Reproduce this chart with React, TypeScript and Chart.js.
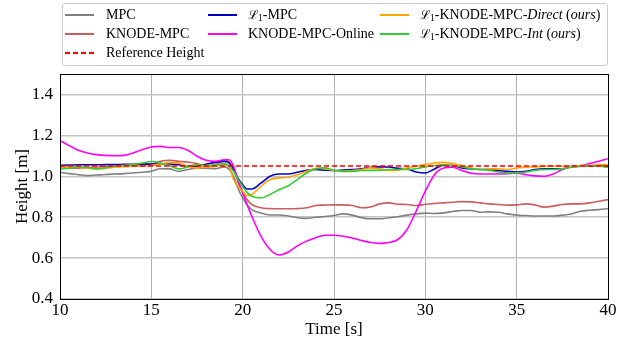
import React, { useEffect, useRef } from "react";
import { Chart, registerables } from "chart.js";

Chart.register(...registerables);

const T = [10,10.5,11,11.5,12,12.5,13,13.5,14,14.5,15,15.5,16,16.5,17,17.5,18,18.5,19,19.25,19.5,19.75,20,20.25,20.5,21,21.5,22,22.5,23,23.5,24,24.5,25,25.5,26,26.5,27,27.5,28,28.5,29,29.5,30,30.5,31,31.5,32,32.5,33,33.5,34,34.5,35,35.5,36,36.5,37,37.5,38,38.5,39,39.5,40];

const mpc = [1.020,1.013,1.008,1.003,1.006,1.009,1.011,1.013,1.016,1.02,1.024,1.037,1.036,1.024,1.033,1.04,1.04,1.037,1.046,1.035,1.0,0.94,0.894,0.86,0.837,0.82,0.811,0.811,0.806,0.797,0.794,0.8,0.803,0.808,0.816,0.81,0.798,0.792,0.792,0.797,0.802,0.81,0.816,0.82,0.818,0.821,0.828,0.833,0.833,0.824,0.826,0.824,0.816,0.81,0.808,0.806,0.806,0.806,0.81,0.816,0.829,0.834,0.837,0.841];

const knodeMpc = [1.04,1.04,1.04,1.042,1.045,1.046,1.048,1.05,1.052,1.056,1.06,1.073,1.078,1.073,1.07,1.062,1.049,1.057,1.078,1.072,1.04,0.97,0.919,0.885,0.862,0.846,0.842,0.841,0.841,0.842,0.846,0.857,0.859,0.86,0.86,0.857,0.846,0.85,0.865,0.87,0.863,0.862,0.857,0.863,0.867,0.87,0.873,0.876,0.875,0.87,0.865,0.862,0.859,0.86,0.865,0.86,0.849,0.854,0.862,0.865,0.865,0.87,0.878,0.886];

const l1Mpc = [1.054,1.055,1.056,1.056,1.056,1.057,1.057,1.058,1.058,1.059,1.06,1.06,1.06,1.056,1.049,1.049,1.059,1.068,1.073,1.066,1.033,0.99,0.959,0.938,0.938,0.967,1.0,1.011,1.011,1.02,1.029,1.033,1.03,1.028,1.031,1.033,1.037,1.044,1.046,1.045,1.039,1.036,1.021,1.016,1.036,1.054,1.052,1.041,1.036,1.033,1.033,1.028,1.024,1.021,1.024,1.033,1.037,1.037,1.037,1.046,1.049,1.049,1.052,1.052];

const knodeOnline = [1.174,1.15,1.127,1.114,1.106,1.102,1.10,1.102,1.114,1.13,1.143,1.146,1.141,1.141,1.127,1.098,1.078,1.073,1.081,1.081,1.05,0.98,0.92,0.86,0.805,0.707,0.642,0.615,0.63,0.66,0.683,0.70,0.712,0.712,0.707,0.698,0.686,0.676,0.672,0.676,0.691,0.74,0.83,0.927,1.008,1.04,1.044,1.028,1.015,1.011,1.011,1.011,1.013,1.015,1.008,1.002,1.0,1.011,1.033,1.049,1.052,1.062,1.073,1.086];

const l1Direct = [1.046,1.045,1.044,1.04,1.036,1.039,1.044,1.047,1.049,1.05,1.052,1.059,1.068,1.065,1.049,1.04,1.046,1.049,1.057,1.049,0.984,0.95,0.927,0.905,0.911,0.951,0.984,0.992,0.995,1.008,1.024,1.039,1.036,1.028,1.024,1.028,1.033,1.041,1.036,1.028,1.03,1.041,1.049,1.057,1.065,1.068,1.062,1.052,1.041,1.033,1.036,1.036,1.033,1.041,1.044,1.046,1.049,1.049,1.049,1.049,1.052,1.052,1.057,1.057];

const l1Int = [1.036,1.039,1.046,1.043,1.036,1.041,1.049,1.054,1.057,1.065,1.072,1.065,1.052,1.036,1.046,1.057,1.052,1.057,1.062,1.052,1.024,0.985,0.951,0.92,0.902,0.894,0.911,0.935,0.954,0.984,1.016,1.037,1.041,1.028,1.024,1.024,1.028,1.029,1.029,1.033,1.033,1.033,1.037,1.046,1.052,1.057,1.052,1.046,1.037,1.033,1.028,1.021,1.016,1.016,1.021,1.029,1.033,1.033,1.036,1.044,1.049,1.052,1.049,1.044];

const refTimes = [10, 40];
const refHeight = [1.05, 1.05];

const X_TICKS = [10, 15, 20, 25, 30, 35, 40];
const Y_TICKS = [0.4, 0.6, 0.8, 1.0, 1.2, 1.4];

const FONT = "'Liberation Serif', 'Times New Roman', serif";

const pts = (xs: number[], ys: number[]) => xs.map((x, i) => ({ x, y: ys[i] }));

type LegendItem = { key: string; color: string; dash?: boolean; label: React.ReactNode; col: number; row: number };

const L1 = (
  <span>
    <span style={{ fontFamily: "'DejaVu Serif', serif", fontSize: "0.9em" }}>ℒ</span>
    <sub style={{ fontSize: "0.68em", verticalAlign: "-0.2em" }}>1</sub>
  </span>
);

const legendItems: LegendItem[] = [
  { key: "mpc", color: "#808080", label: "MPC", col: 0, row: 0 },
  { key: "knode", color: "#cd5c5c", label: "KNODE-MPC", col: 0, row: 1 },
  { key: "ref", color: "#ff0000", dash: true, label: "Reference Height", col: 0, row: 2 },
  { key: "l1", color: "#0000cd", label: <>{L1}-MPC</>, col: 1, row: 0 },
  { key: "online", color: "#ff00ff", label: "KNODE-MPC-Online", col: 1, row: 1 },
  { key: "direct", color: "#ffa500", label: <>{L1}-KNODE-MPC-<i>Direct</i> (<i>ours</i>)</>, col: 2, row: 0 },
  { key: "int", color: "#32cd32", label: <>{L1}-KNODE-MPC-<i>Int</i> (<i>ours</i>)</>, col: 2, row: 1 },
];

const colLine = [65, 208, 380];
const colText = [106, 248, 420];
const rowY = [15, 33.5, 52.5];

export default function App() {
  const ref = useRef<HTMLCanvasElement | null>(null);

  useEffect(() => {
    document.body.style.margin = "0";
    const canvas = ref.current!;
    const frame = {
      id: "frame",
      afterDatasetsDraw(chart: any) {
        const { ctx, chartArea: a } = chart;
        ctx.save();
        ctx.strokeStyle = "#000";
        ctx.lineWidth = 1;
        ctx.strokeRect(Math.round(a.left) + 0.5, Math.round(a.top) + 0.5, Math.round(a.right - a.left), Math.round(a.bottom - a.top));
        ctx.restore();
      },
    };
    const line = (data: number[], color: string, order: number) => ({
      data: pts(T, data),
      borderColor: color,
      backgroundColor: color,
      borderWidth: 1.6,
      pointRadius: 0,
      cubicInterpolationMode: "monotone" as const,
      order,
    });
    const chart = new Chart(canvas, {
      type: "line",
      data: {
        datasets: [
          { label: "MPC", ...line(mpc, "#808080", 7) },
          { label: "KNODE-MPC", ...line(knodeMpc, "#cd5c5c", 6) },
          { label: "L1-MPC", ...line(l1Mpc, "#0000cd", 5) },
          { label: "KNODE-MPC-Online", ...line(knodeOnline, "#ff00ff", 4) },
          { label: "L1-KNODE-MPC-Direct (ours)", ...line(l1Direct, "#ffa500", 3) },
          { label: "L1-KNODE-MPC-Int (ours)", ...line(l1Int, "#32cd32", 2) },
          {
            label: "Reference Height",
            data: pts(refTimes, refHeight),
            borderColor: "#ff0000",
            borderWidth: 1.5,
            borderDash: [5, 3],
            pointRadius: 0,
            order: 1,
          },
        ] as any,
      },
      options: {
        animation: false,
        responsive: false,
        devicePixelRatio: 1,
        layout: { padding: { left: 0, right: 23, top: 74, bottom: 0 } },
        plugins: { legend: { display: false }, tooltip: { enabled: false } },
        scales: {
          x: {
            type: "linear",
            min: 10,
            max: 40,
            afterFit: (s: any) => { s.height = 44; },
            afterBuildTicks: (s: any) => { s.ticks = X_TICKS.map((v) => ({ value: v })); },
            ticks: { color: "#000", font: { family: FONT, size: 17 }, padding: 1, maxRotation: 0, autoSkip: false, callback: (v: any) => String(v) },
            grid: { color: "#b0b0b0", lineWidth: 1, drawTicks: false },
            border: { display: false },
            title: { display: true, text: "Time [s]", color: "#000", font: { family: FONT, size: 17 }, padding: { top: 0, bottom: 3 } },
          },
          y: {
            type: "linear",
            min: 0.4,
            max: 1.5,
            afterFit: (s: any) => { s.width = 60; },
            afterBuildTicks: (s: any) => { s.ticks = Y_TICKS.map((v) => ({ value: v })); },
            ticks: { color: "#000", font: { family: FONT, size: 17 }, padding: 7, callback: (v: any) => Number(v).toFixed(1) },
            grid: { color: "#c4c4c4", lineWidth: 1.5, drawTicks: false },
            border: { display: false },
            title: { display: true, text: "Height [m]", color: "#000", font: { family: FONT, size: 17 }, padding: { top: 12, bottom: 0 } },
          },
        },
      },
      plugins: [frame],
    } as any);
    return () => chart.destroy();
  }, []);

  return (
    <div style={{ position: "fixed", left: 0, top: 0, width: 631, height: 343, background: "#fff" }}>
      <canvas ref={ref} width={631} height={343} style={{ position: "absolute", left: 0, top: 0, width: 631, height: 343 }} />
      <div
        style={{
          position: "absolute",
          left: 62,
          top: 3,
          width: 544,
          height: 61,
          border: "1px solid #cccccc",
          borderRadius: 3,
          background: "rgba(255,255,255,0.8)",
          fontFamily: FONT,
          fontSize: 14,
          color: "#000",
        }}
      >
        {legendItems.map((it) => (
          <React.Fragment key={it.key}>
            <div
              style={{
                position: "absolute",
                left: colLine[it.col] - 63,
                top: rowY[it.row] - 4 - 1,
                width: 29,
                height: 2,
                background: it.dash
                  ? `repeating-linear-gradient(to right, ${it.color} 0px, ${it.color} 5px, transparent 5px, transparent 8px)`
                  : it.color,
              }}
            />
            <div
              style={{
                position: "absolute",
                left: colText[it.col] - 63,
                top: rowY[it.row] - 4 - 9,
                lineHeight: "18px",
                whiteSpace: "nowrap",
              }}
            >
              {it.label}
            </div>
          </React.Fragment>
        ))}
      </div>
    </div>
  );
}
